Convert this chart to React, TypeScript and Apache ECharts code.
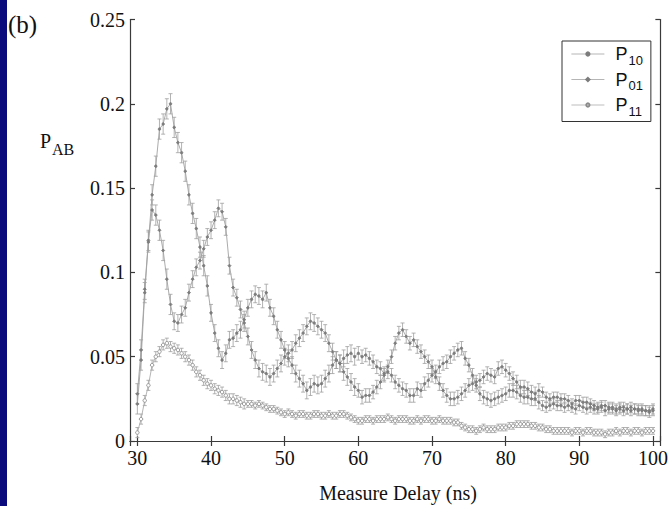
import React, { useEffect, useRef } from 'react';
import * as echarts from 'echarts';

// Measure delay (ns), sampled every 0.5 ns from 30 to 100
const delays: number[] = Array.from({ length: 141 }, (_, i) => 30 + i * 0.5);

const p10: number[] = [
  0.022, 0.048, 0.088, 0.118, 0.146, 0.163, 0.185, 0.188, 0.197, 0.200,
  0.186, 0.177, 0.171, 0.160, 0.146, 0.135, 0.126, 0.115, 0.104, 0.092,
  0.076, 0.064, 0.055, 0.048, 0.052, 0.060, 0.061, 0.064, 0.066, 0.072,
  0.079, 0.084, 0.087, 0.086, 0.084, 0.088, 0.079, 0.074, 0.066, 0.060,
  0.054, 0.049, 0.045, 0.040, 0.037, 0.034, 0.030, 0.032, 0.034, 0.033,
  0.034, 0.037, 0.040, 0.045, 0.048, 0.046, 0.049, 0.051, 0.052, 0.050,
  0.052, 0.050, 0.051, 0.049, 0.047, 0.044, 0.043, 0.040, 0.041, 0.039,
  0.035, 0.033, 0.031, 0.030, 0.027, 0.027, 0.031, 0.030, 0.034, 0.036,
  0.039, 0.041, 0.044, 0.046, 0.047, 0.050, 0.052, 0.054, 0.055, 0.049,
  0.045, 0.039, 0.033, 0.028, 0.026, 0.025, 0.024, 0.025, 0.026, 0.027,
  0.028, 0.030, 0.030, 0.029, 0.027, 0.026, 0.026, 0.025, 0.025, 0.023,
  0.021, 0.020, 0.021, 0.022, 0.021, 0.021, 0.020, 0.021, 0.020, 0.019,
  0.021, 0.020, 0.019, 0.020, 0.019, 0.019, 0.020, 0.018, 0.019, 0.019,
  0.018, 0.019, 0.018, 0.019, 0.018, 0.019, 0.018, 0.019, 0.018, 0.018,
  0.019,
];

const p01: number[] = [
  0.028, 0.054, 0.090, 0.119, 0.137, 0.134, 0.125, 0.113, 0.096, 0.081,
  0.071, 0.070, 0.075, 0.079, 0.088, 0.096, 0.103, 0.107, 0.114, 0.121,
  0.125, 0.131, 0.138, 0.136, 0.127, 0.104, 0.091, 0.085, 0.078, 0.070,
  0.062, 0.054, 0.048, 0.043, 0.041, 0.040, 0.038, 0.040, 0.043, 0.046,
  0.050, 0.052, 0.054, 0.058, 0.061, 0.064, 0.068, 0.071, 0.070, 0.068,
  0.066, 0.064, 0.058, 0.053, 0.048, 0.046, 0.041, 0.038, 0.035, 0.032,
  0.030, 0.026, 0.027, 0.027, 0.029, 0.032, 0.035, 0.039, 0.044, 0.050,
  0.058, 0.064, 0.066, 0.062, 0.058, 0.060, 0.056, 0.053, 0.050, 0.047,
  0.044, 0.038, 0.034, 0.030, 0.027, 0.025, 0.025, 0.026, 0.028, 0.030,
  0.033, 0.034, 0.035, 0.036, 0.038, 0.040, 0.039, 0.038, 0.043, 0.044,
  0.042, 0.040, 0.037, 0.035, 0.032, 0.032, 0.031, 0.029, 0.028, 0.030,
  0.029, 0.026, 0.025, 0.026, 0.026, 0.025, 0.025, 0.024, 0.022, 0.024,
  0.024, 0.023, 0.023, 0.022, 0.021, 0.020, 0.021, 0.021, 0.020, 0.020,
  0.019, 0.020, 0.020, 0.019, 0.020, 0.019, 0.019, 0.018, 0.018, 0.017,
  0.018,
];

const p11: number[] = [
  0.005, 0.013, 0.024, 0.033, 0.045, 0.050, 0.053, 0.057, 0.058, 0.056,
  0.055, 0.054, 0.052, 0.050, 0.048, 0.045, 0.041, 0.039, 0.036, 0.034,
  0.033, 0.031, 0.030, 0.029, 0.027, 0.025, 0.025, 0.024, 0.023, 0.022,
  0.022, 0.022, 0.021, 0.022, 0.021, 0.020, 0.019, 0.019, 0.018, 0.017,
  0.016, 0.017, 0.016, 0.015, 0.016, 0.016, 0.015, 0.015, 0.016, 0.016,
  0.015, 0.015, 0.016, 0.015, 0.015, 0.016, 0.016, 0.015, 0.014, 0.013,
  0.012, 0.012, 0.013, 0.013, 0.012, 0.013, 0.013, 0.013, 0.014, 0.013,
  0.012, 0.013, 0.013, 0.013, 0.012, 0.012, 0.013, 0.012, 0.013, 0.013,
  0.012, 0.012, 0.013, 0.012, 0.012, 0.012, 0.011, 0.011, 0.009, 0.008,
  0.007, 0.007, 0.006, 0.007, 0.008, 0.007, 0.007, 0.007, 0.008, 0.008,
  0.008, 0.009, 0.009, 0.010, 0.010, 0.010, 0.010, 0.009, 0.009, 0.008,
  0.008, 0.007, 0.007, 0.006, 0.006, 0.006, 0.006, 0.006, 0.005, 0.006,
  0.006, 0.005, 0.006, 0.006, 0.005, 0.005, 0.005, 0.004, 0.005, 0.005,
  0.006, 0.005, 0.006, 0.006, 0.005, 0.006, 0.006, 0.005, 0.006, 0.006,
  0.006,
];

// Error bar half-lengths, one per 5 ns block starting at 30 ns
const err10: number[] = [0.006, 0.006, 0.005, 0.005, 0.005, 0.005, 0.004, 0.004, 0.004, 0.004, 0.004, 0.003, 0.003, 0.003];
const err01: number[] = [0.006, 0.005, 0.005, 0.005, 0.005, 0.005, 0.004, 0.004, 0.004, 0.004, 0.004, 0.003, 0.003, 0.003];
const err11: number[] = [0.003, 0.003, 0.003, 0.002, 0.002, 0.002, 0.002, 0.002, 0.002, 0.002, 0.002, 0.002, 0.002, 0.002];

const seriesNames = ['P10', 'P01', 'P11'];
const subscripts = ['10', '01', '11'];
const yTicks = [0, 0.05, 0.1, 0.15, 0.2, 0.25];

const SERIF = 'Liberation Serif';
const SANS = 'Liberation Sans';

function errAt(errs: number[], x: number) {
  return errs[Math.min(errs.length - 1, Math.floor((x - 30) / 5))];
}

export default function App() {
  const ref = useRef<HTMLDivElement>(null);
  useEffect(() => {
    if (!ref.current) return;
    const chart = echarts.init(ref.current, undefined, { renderer: 'svg' });
    const sets = [
      { name: seriesNames[0], vals: p10, errs: err10, symbol: 'circle', size: 2.5, line: '#a2a2a2', mark: '#7c7c7c', fill: '#7c7c7c' },
      { name: seriesNames[1], vals: p01, errs: err01, symbol: 'diamond', size: 3, line: '#a2a2a2', mark: '#7c7c7c', fill: '#7c7c7c' },
      { name: seriesNames[2], vals: p11, errs: err11, symbol: 'circle', size: 3.5, line: '#acacac', mark: '#8a8a8a', fill: '#ffffff' },
    ];
    const series: any[] = [];
    sets.forEach((s) => {
      series.push({
        type: 'custom',
        name: s.name + ' err',
        xAxisIndex: 0,
        yAxisIndex: 0,
        silent: true,
        z: 1,
        data: delays.map((x, i) => [x, s.vals[i], errAt(s.errs, x)]),
        encode: { x: 0, y: 1 },
        renderItem: (params: any, api: any) => {
          const x = api.value(0);
          const y = api.value(1);
          const e = api.value(2);
          const hi = api.coord([x, y + e]);
          const lo = api.coord([x, y - e]);
          const cw = 2;
          const style = { stroke: '#a0a0a0', lineWidth: 0.8 };
          return {
            type: 'group',
            children: [
              { type: 'line', shape: { x1: hi[0], y1: hi[1], x2: lo[0], y2: lo[1] }, style },
              { type: 'line', shape: { x1: hi[0] - cw, y1: hi[1], x2: hi[0] + cw, y2: hi[1] }, style },
              { type: 'line', shape: { x1: lo[0] - cw, y1: lo[1], x2: lo[0] + cw, y2: lo[1] }, style },
            ],
          };
        },
      });
    });
    sets.forEach((s) => {
      series.push({
        type: 'line',
        name: s.name,
        xAxisIndex: 0,
        yAxisIndex: 0,
        z: 2,
        data: delays.map((x, i) => [x, s.vals[i]]),
        symbol: s.symbol,
        symbolSize: s.size,
        showSymbol: true,
        showAllSymbol: true,
        lineStyle: { color: s.line, width: 0.9 },
        itemStyle: { color: s.fill, borderColor: s.mark, borderWidth: 0.9 },
      });
    });

    const axisLine = { show: true, lineStyle: { color: '#3a3a3a', width: 1.2 } };
    const axisTick = { show: true, inside: true, length: 5, lineStyle: { color: '#3a3a3a', width: 1.2 } };

    chart.setOption({
      animation: false,
      backgroundColor: '#ffffff',
      textStyle: { fontFamily: SERIF },
      grid: { left: 130, right: 5, top: 19.5, bottom: 65, containLabel: false },
      xAxis: [
        {
          type: 'value', min: 29, max: 101, minInterval: 10, maxInterval: 10,
          position: 'bottom', axisLine, axisTick, splitLine: { show: false },
          axisLabel: {
            color: '#111', fontFamily: SERIF, fontSize: 20, margin: 7,
            formatter: (v: number) => (Math.round(v) % 10 === 0 && Math.abs(v - Math.round(v)) < 1e-9 ? String(Math.round(v)) : ''),
          },
        },
        {
          type: 'value', min: 29, max: 101, minInterval: 10, maxInterval: 10,
          position: 'top', axisLine, axisTick, splitLine: { show: false }, axisLabel: { show: false },
        },
      ],
      yAxis: [
        {
          type: 'value', min: yTicks[0], max: yTicks[yTicks.length - 1], interval: 0.05,
          position: 'left', axisLine, axisTick, splitLine: { show: false },
          axisLabel: { color: '#111', fontFamily: SERIF, fontSize: 20, margin: 5 },
        },
        {
          type: 'value', min: yTicks[0], max: yTicks[yTicks.length - 1], interval: 0.05,
          position: 'right', axisLine, axisTick, splitLine: { show: false }, axisLabel: { show: false },
        },
      ],
      legend: {
        data: seriesNames,
        orient: 'vertical',
        left: 562,
        top: 41,
        padding: [4, 8, 4, 9],
        itemGap: 4,
        itemWidth: 33,
        itemHeight: 4,
        lineStyle: { width: 0.8 },
        borderColor: '#333',
        borderWidth: 1,
        backgroundColor: '#fff',
        formatter: (name: string) => `{p|P}{s|${subscripts[seriesNames.indexOf(name)]}}`,
        textStyle: {
          color: '#111',
          fontFamily: SANS,
          rich: {
            p: { fontSize: 18, fontFamily: SANS, color: '#111', padding: [0, 0, 0, 6] },
            s: { fontSize: 13, fontFamily: SANS, color: '#111', padding: [12, 0, 0, 1] },
          },
        },
      },
      graphic: [
        { type: 'rect', left: 0, top: 0, shape: { x: 0, y: 0, width: 7, height: 506 }, style: { fill: '#0a0a7c' }, z: 100 },
        { type: 'text', x: 8, y: 24, style: { text: '(b)', fontFamily: SERIF, fontSize: 25, fill: '#111', verticalAlign: 'middle' } },
        { type: 'text', x: 40, y: 141, style: { text: 'P', fontFamily: SERIF, fontSize: 20, fill: '#111', verticalAlign: 'middle' } },
        { type: 'text', x: 52, y: 149, style: { text: 'AB', fontFamily: SERIF, fontSize: 16, fill: '#111', verticalAlign: 'middle' } },
        { type: 'text', x: 398, y: 493, style: { text: 'Measure Delay (ns)', fontFamily: SERIF, fontSize: 20, fill: '#111', align: 'center', verticalAlign: 'middle' } },
      ],
      series,
    });
    return () => chart.dispose();
  }, []);
  return <div ref={ref} style={{ position: 'fixed', left: 0, top: 0, width: 671, height: 506, background: '#fff' }} />;
}
